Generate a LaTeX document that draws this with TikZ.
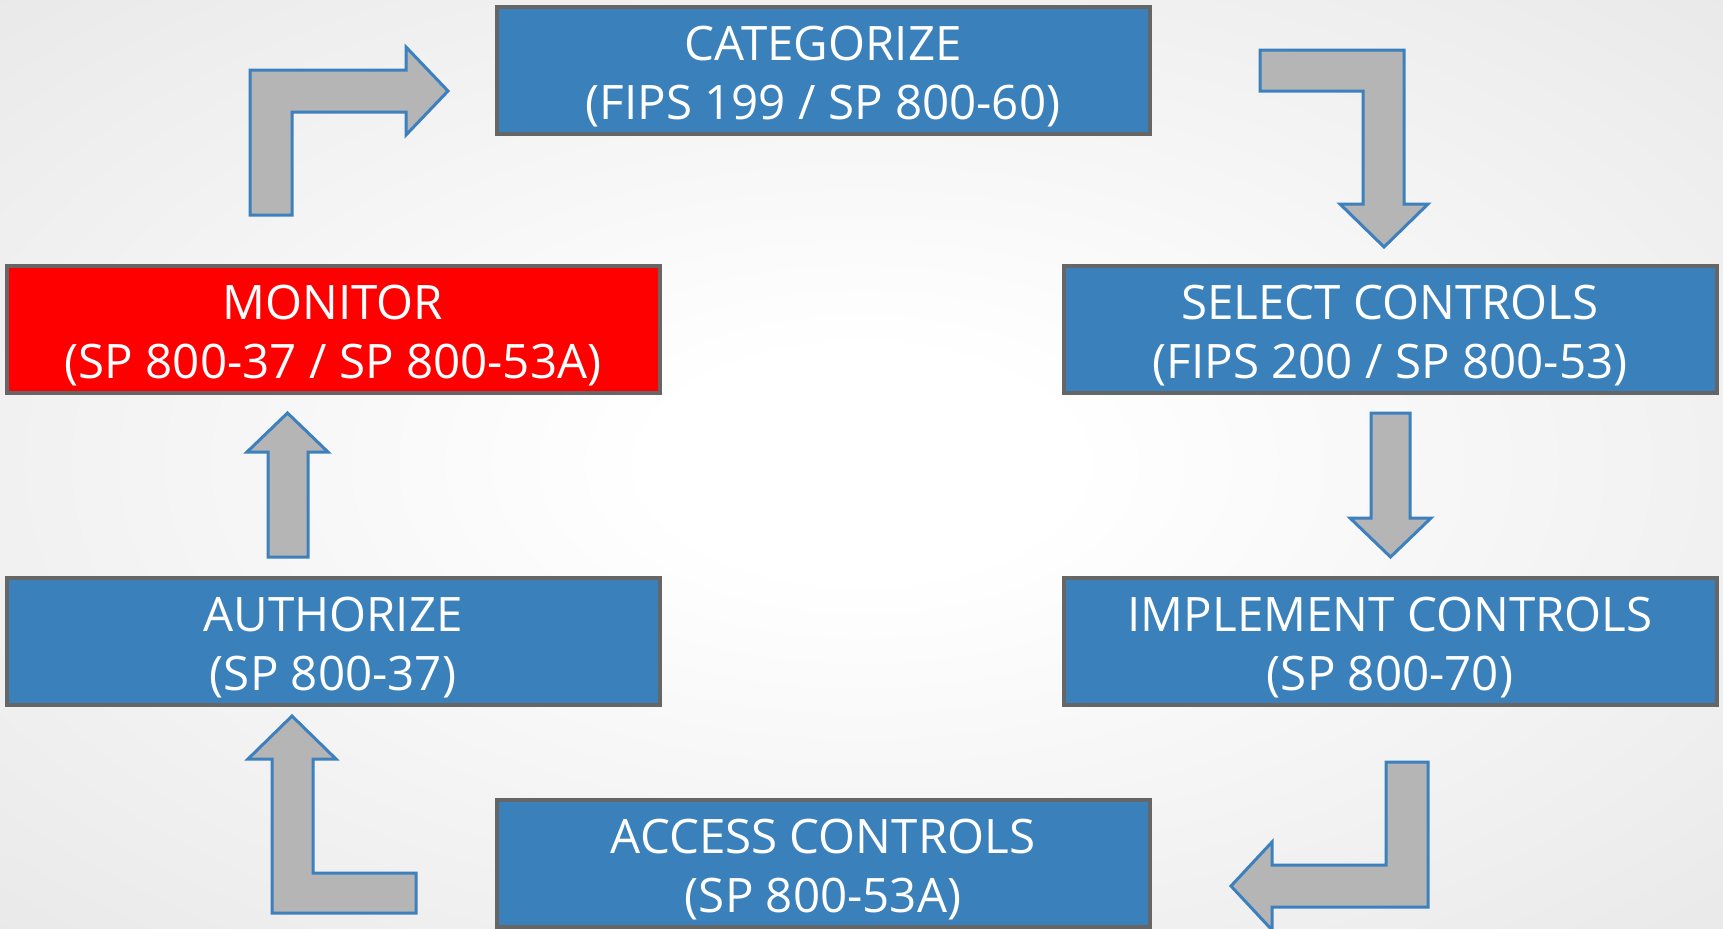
\documentclass[tikz,border=0pt]{standalone}
\usepackage{fontspec}
\setmainfont{Open Sans}

\definecolor{stepblue}{RGB}{58,128,186}
\definecolor{stepred}{RGB}{255,0,0}
\definecolor{frame}{RGB}{102,102,102}
\definecolor{arrowfill}{RGB}{181,181,181}
\definecolor{arrowline}{RGB}{61,128,190}
\definecolor{bgedge}{RGB}{207,207,207}

% soft light centre fading to grey at the corners
\pgfdeclareradialshading{bgglow}{\pgfpoint{0bp}{0bp}}{%
  color(0bp)=(white); color(6bp)=(white); color(71bp)=(bgedge)}

% fixed line box so both text lines sit at the same place in every box
\newcommand\lnstrut{\rule[-5pt]{0pt}{29.5pt}}

\tikzset{
  stepbox/.style={draw=frame, line width=2pt, fill=stepblue, text=white,
    minimum width=326.5pt, minimum height=63.5pt, inner sep=0pt,
    align=center, font=\fontsize{23.75pt}{29.5pt}\selectfont},
  alertbox/.style={stepbox, fill=stepred},
  blockarrow/.style={draw=arrowline, line width=1.5pt, fill=arrowfill,
    line join=miter}
}

\begin{document}
\begin{tikzpicture}[x=0.5pt, y=-0.5pt]
  \useasboundingbox (0,0) rectangle (1723,928);
  \clip (0,0) rectangle (1723,928);
  \shade[shading=bgglow] (0,0) rectangle (1723,928);

  % the six steps of the cycle
  \node[stepbox]  (cat)  at (823,70)    {\lnstrut CATEGORIZE\\\lnstrut (FIPS 199 / SP 800-60)};
  \node[stepbox]  (sel)  at (1390,329)  {\lnstrut SELECT CONTROLS\\\lnstrut (FIPS 200 / SP 800-53)};
  \node[stepbox]  (imp)  at (1390,641)  {\lnstrut IMPLEMENT CONTROLS\\\lnstrut (SP 800-70)};
  \node[stepbox]  (acc)  at (823,863.5) {\lnstrut ACCESS CONTROLS\\\lnstrut (SP 800-53A)};
  \node[stepbox]  (auth) at (333,641)   {\lnstrut AUTHORIZE\\\lnstrut (SP 800-37)};
  \node[alertbox] (mon)  at (333,329)   {\lnstrut MONITOR\\\lnstrut (SP 800-37 / SP 800-53A)};

  % block arrows between the steps
  % monitor -> categorize (up, then right)
  \draw[blockarrow] (250,215) -- (250,70) -- (406,70) -- (406,47) -- (448,91)
    -- (406,135) -- (406,112) -- (292,112) -- (292,215) -- cycle;
  % categorize -> select (right, then down)
  \draw[blockarrow] (1260,50) -- (1404,50) -- (1404,204) -- (1428,204) -- (1384,247)
    -- (1340,204) -- (1363,204) -- (1363,91) -- (1260,91) -- cycle;
  % select -> implement (down)
  \draw[blockarrow] (1371,413) -- (1410,413) -- (1410,518) -- (1431,518)
    -- (1390.5,557) -- (1350,518) -- (1371,518) -- cycle;
  % implement -> access (down, then left)
  \draw[blockarrow] (1386,762) -- (1428,762) -- (1428,907) -- (1272,907) -- (1272,930)
    -- (1231,886) -- (1272,842) -- (1272,865) -- (1386,865) -- cycle;
  % access -> authorize (left, then up)
  \draw[blockarrow] (416,913) -- (272,913) -- (272,759) -- (248,759) -- (292,716)
    -- (336,759) -- (313,759) -- (313,873) -- (416,873) -- cycle;
  % authorize -> monitor (up)
  \draw[blockarrow] (268,557) -- (268,452) -- (247,452) -- (287.5,413)
    -- (328,452) -- (308,452) -- (308,557) -- cycle;
\end{tikzpicture}
\end{document}
